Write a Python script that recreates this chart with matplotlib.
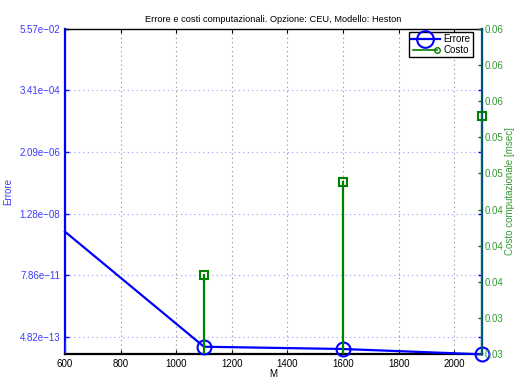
import numpy as np
import matplotlib
matplotlib.use('Agg')
import matplotlib.pyplot as plt
from matplotlib.lines import Line2D
from matplotlib.legend_handler import HandlerLine2D

# data: number of steps M, pricing error, computational cost
M = [600, 1100, 1600, 2100]
errore = [2.85e-09, 2.1e-13, 1.74e-13, 1.12e-13]
costo = [0.0313, 0.0380, 0.0472, 0.0538]

err_ticks = [4.82e-13, 7.86e-11, 1.28e-08, 2.09e-06, 3.41e-04, 5.57e-02]
err_labels = ['4.82e\u221213', '7.86e\u221211', '1.28e\u221208',
              '2.09e\u221206', '3.41e\u221204', '5.57e\u221202']
cost_lim = (0.0301, 0.0625)

blue = (0, 0, 1)
green = (0, 0.5, 0)
plt.rcParams['font.family'] = ['Liberation Sans', 'DejaVu Sans']
plt.rcParams['font.size'] = 7


class EndMarker(HandlerLine2D):
    # stem legend: marker only at the right end of the line
    def create_artists(self, *args, **kw):
        arts = super().create_artists(*args, **kw)
        for a in arts:
            if a.get_marker() not in (None, 'None', ''):
                a.set_markevery([len(a.get_xdata()) - 1])
        return arts


fig = plt.figure(figsize=(5.19, 3.81), dpi=100)
ax = fig.add_axes([0.1252, 0.070, 0.8035, 0.8547])
ax2 = ax.twinx()

# error curve (left, log scale)
ax.semilogy(M, errore, color=blue, lw=1.6, marker='o', ms=10, mfc='none',
            mew=1.5, markevery=slice(1, None), clip_on=False, zorder=5)
ax.set_xlim(600, 2100)
ax.set_ylim(1.12e-13, 5.57e-02)
ax.set_xticks(np.arange(600, 2001, 200))
ax.set_yticks(err_ticks)
ax.set_yticklabels(err_labels)
ax.yaxis.set_minor_locator(matplotlib.ticker.NullLocator())
ax.tick_params(axis='y', colors=blue, labelcolor='#3a3aff', direction='in',
               length=3, width=1, right=True, labelsize=7)
ax.tick_params(axis='x', direction='in', length=3, top=True, labelsize=7)
ax.grid(True, axis='x', color='#888888', ls=(0, (1, 3)), lw=0.8)
ax.grid(True, axis='y', color='#9999ff', ls=(0, (1, 3)), lw=0.8)
ax.set_xlabel('M', fontsize=7)
ax.xaxis.set_label_coords(0.5, -0.045)
ax.set_ylabel('Errore', color='#3a3aff', fontsize=7)
ax.yaxis.set_label_coords(-0.125, 0.5)
ax.set_title('Errore e costi computazionali. Opzione: CEU, Modello: Heston',
             fontsize=6.7, pad=5)

ax.spines['left'].set_color(blue)
ax.spines['left'].set_linewidth(1.6)
ax.spines['bottom'].set_linewidth(1.6)
ax.spines['top'].set_linewidth(1.0)
ax.spines['right'].set_color((0, 0.3, 0.5))

# computational cost stems (right, linear)
for x, c in zip(M, costo):
    ax2.plot([x, x], [0, c], color=green, lw=1.6, zorder=3)
ax2.plot(M, costo, ls='none', marker='s', ms=6, mfc='none', mec=green,
         mew=1.5, markevery=slice(1, None), clip_on=False, zorder=4)
ax2.set_ylim(*cost_lim)
ct = np.linspace(cost_lim[0], cost_lim[1], 10)
ax2.set_yticks(ct)
ax2.set_yticklabels(['%.2f' % v for v in ct])
ax2.tick_params(axis='y', colors=green, labelcolor='#339933', direction='in',
                length=3, width=1, labelsize=7, pad=2)
ax2.spines['right'].set_color((0, 0.3, 0.5))
ax2.spines['right'].set_linewidth(1.6)
ax2.spines['left'].set_visible(False)
ax2.spines['top'].set_visible(False)
ax2.spines['bottom'].set_visible(False)
ax2.set_ylabel('Costo computazionale [msec]', color='#339933', fontsize=7,
               rotation=90)
ax2.yaxis.set_label_coords(1.055, 0.5)

h_err = Line2D([], [], color=blue, lw=1.6, marker='o', ms=12, mfc='none', mew=1.5)
h_cost = Line2D([], [], color=green, lw=1.2, marker='o', ms=4, mfc='none',
                mew=1.0)
leg = ax2.legend([h_err, h_cost], ['Errore', 'Costo'], loc='upper right',
                 bbox_to_anchor=(0.982, 0.995), fontsize=7, fancybox=False,
                 framealpha=1, edgecolor='black', borderpad=0.2,
                 handlelength=3.0, handletextpad=0.4, labelspacing=0.1,
                 borderaxespad=0.2,
                 handler_map={h_err: HandlerLine2D(numpoints=1),
                              h_cost: EndMarker(numpoints=2)})
leg.get_frame().set_linewidth(1.0)
leg.set_zorder(10)

fig.savefig('out.png', dpi=100)
